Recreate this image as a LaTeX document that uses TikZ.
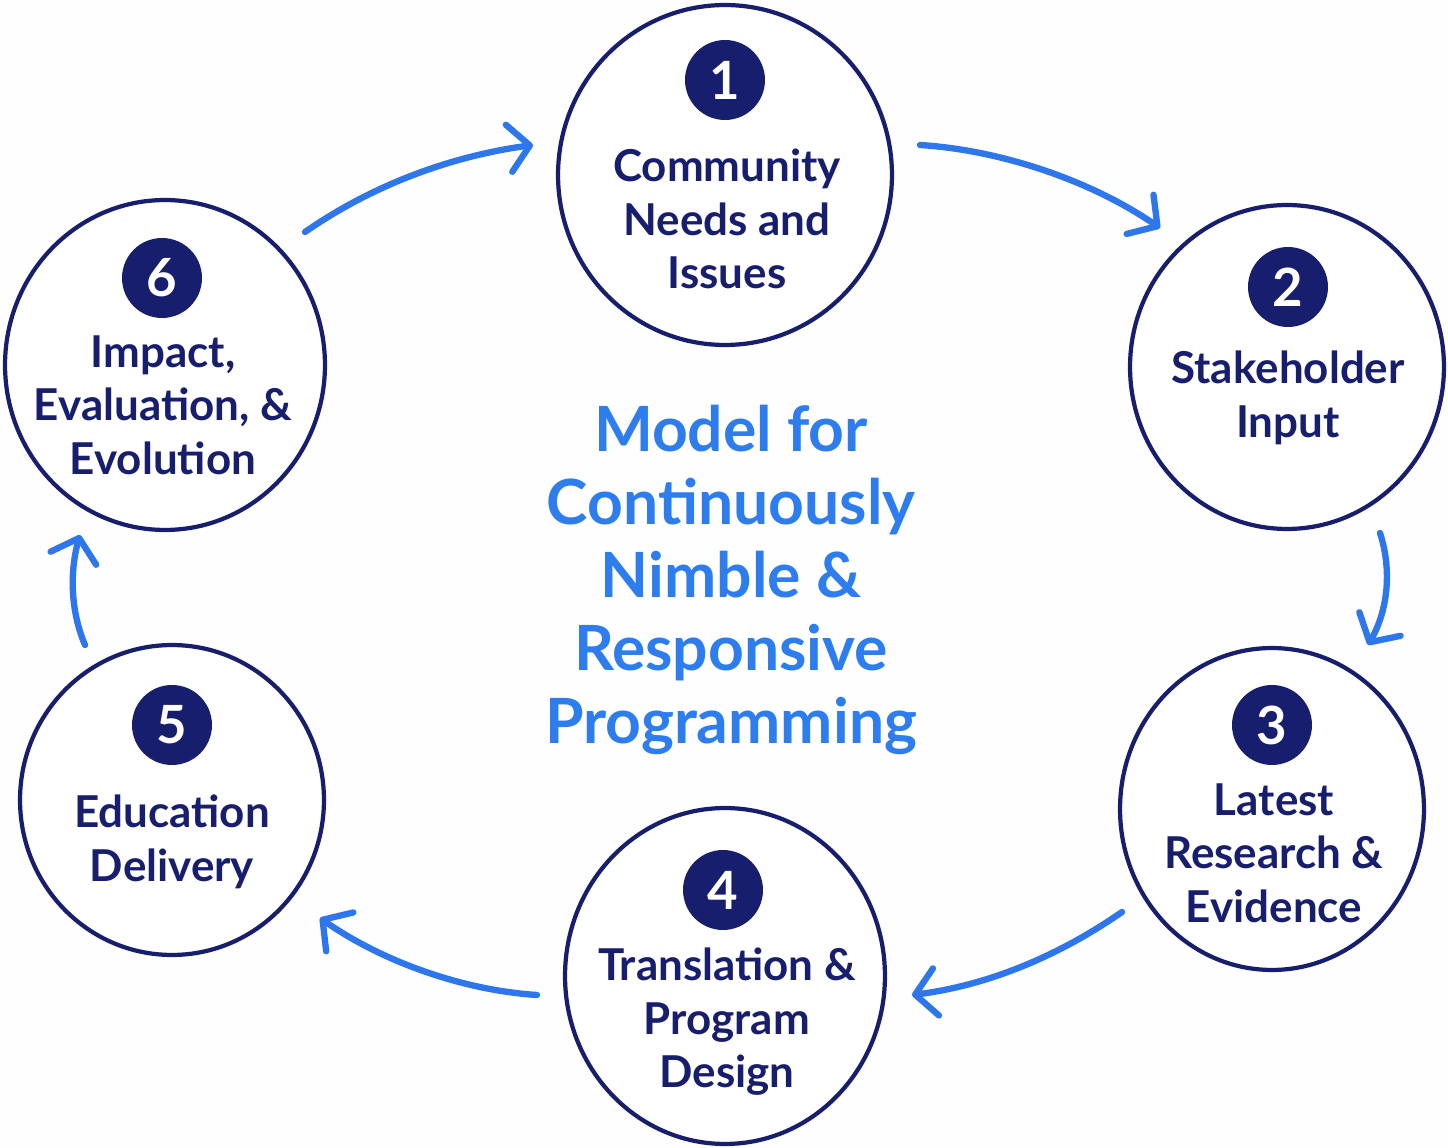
\documentclass[tikz,border=0pt]{standalone}
\usepackage{fontspec}
\setmainfont{Lato}
\usetikzlibrary{arrows.meta,shapes.geometric}
\definecolor{navy}{RGB}{24,30,110}
\definecolor{arrowblue}{RGB}{45,118,235}
\definecolor{titleblue}{RGB}{45,125,238}
\begin{document}
\begin{tikzpicture}[x=0.02cm,y=-0.02cm,
  stage/.style={ellipse,draw=navy,line width=2.4pt,fill=white,inner sep=0pt},
  badge/.style={circle,fill=navy,text=white,minimum size=1.6cm,inner sep=0pt,font=\fontsize{30}{30}\selectfont\bfseries},
  label/.style={align=center,text=navy,font=\fontsize{25}{30.5}\selectfont\bfseries,inner sep=0pt},
  flow/.style={draw=arrowblue,line width=3.6pt,line cap=round,-{Straight Barb[length=0.42cm,width=0.95cm,line cap=round,line join=round]}}
]
\fill[white!99!gray] (0,0) rectangle (1448,1148);
\useasboundingbox (0,0) rectangle (1448,1148);

% stage outlines
\node[stage,minimum width=6.68cm,minimum height=6.8cm] (c1) at (725,175) {};
\node[stage,minimum width=6.28cm,minimum height=6.48cm] (c2) at (1287,367) {};
\node[stage,minimum width=6.08cm,minimum height=6.44cm] (c3) at (1272,809) {};
\node[stage,minimum width=6.4cm,minimum height=6.72cm] (c4) at (725,976) {};
\node[stage,minimum width=6.08cm,minimum height=6.2cm] (c5) at (172,800) {};
\node[stage,minimum width=6.4cm,minimum height=6.6cm] (c6) at (165,365) {};

% badges
\node[badge] (b1) at (725,80) {1};
\node[badge] (b2) at (1288,287) {2};
\node[badge] (b3) at (1272,725) {3};
\node[badge] (b4) at (723,890) {4};
\node[badge] (b5) at (172,725) {5};
\node[badge] (b6) at (162,278) {6};

% labels
\node[label] (t1) at (727,219) {Community\\Needs and\\Issues};
\node[label] (t2) at (1288,398) {Stakeholder\\Input};
\node[label] (t3) at (1274,853) {Latest\\Research \&\\Evidence};
\node[label] (t4) at (727,1022) {Translation \&\\Program\\Design};
\node[label] (t5) at (172,842) {Education\\Delivery};
\node[label] (t6) at (163,405) {Impact,\\Evaluation, \&\\Evolution};

% title
\node[align=center,text=titleblue,font=\fontsize{35.5}{41.5}\selectfont\bfseries,inner sep=0pt] (title) at (731,580)
  {Model for\\Continuously\\Nimble \&\\Responsive\\Programming};

% connector end points
\coordinate (s61) at (305,232); \coordinate (e61) at (533,145);
\coordinate (s12) at (920,145); \coordinate (e12) at (1160,228);
\coordinate (s23) at (1380,533); \coordinate (e23) at (1368,645);
\coordinate (s34) at (1122,912); \coordinate (e34) at (912,995);
\coordinate (s45) at (537,995); \coordinate (e45) at (320,918);
\coordinate (s56) at (85,645); \coordinate (e56) at (80,535);

\draw[flow] (s61) .. controls (380,180) and (460,155) .. (e61);
\draw[flow] (s12) .. controls (1000,150) and (1090,180) .. (e12);
\draw[flow] (s23) .. controls (1392,570) and (1388,610) .. (e23);
\draw[flow] (s34) .. controls (1060,955) and (990,985) .. (e34);
\draw[flow] (s45) .. controls (460,990) and (380,960) .. (e45);
\draw[flow] (s56) .. controls (70,610) and (70,570) .. (e56);
\end{tikzpicture}
\end{document}
